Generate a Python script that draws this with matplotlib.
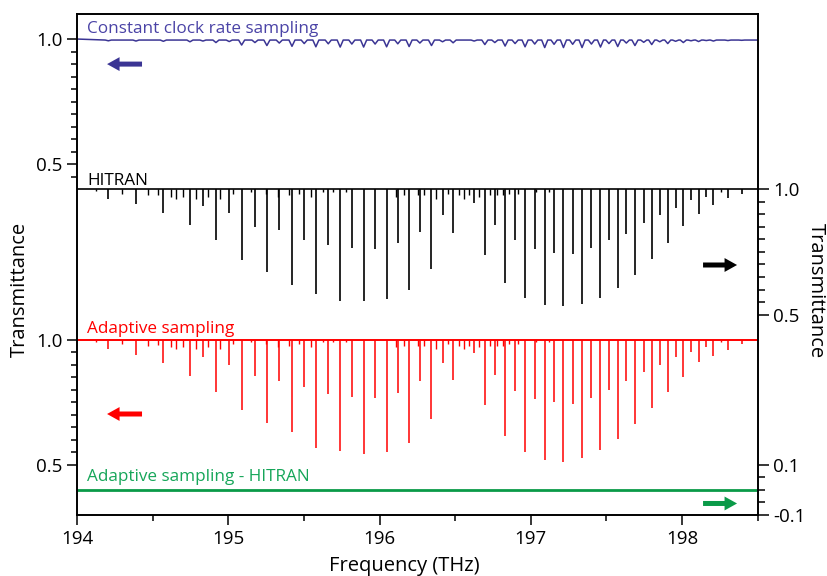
import numpy as np
import matplotlib
matplotlib.use('Agg')
import matplotlib.pyplot as plt

# main absorption lines (THz), with depth below baseline
line_freq = [194.205, 194.388, 194.569, 194.745, 194.831, 194.917, 195.005, 195.087,
             195.175, 195.254, 195.336, 195.420, 195.501, 195.578, 195.660, 195.739,
             195.816, 195.894, 195.970, 196.046, 196.120, 196.195, 196.266, 196.343,
             196.416, 196.486, 196.625, 196.696, 196.762, 196.830, 196.896, 196.962,
             197.026, 197.092, 197.154, 197.216, 197.277, 197.339, 197.401, 197.461,
             197.517, 197.575, 197.632, 197.689, 197.747, 197.800, 197.853, 197.906,
             197.958, 198.009, 198.060, 198.110, 198.161, 198.208, 198.304, 198.395]
hitran_depth = [0.037, 0.057, 0.095, 0.144, 0.067, 0.204, 0.095, 0.281,
                0.151, 0.328, 0.161, 0.381, 0.204, 0.417, 0.224, 0.444,
                0.233, 0.447, 0.240, 0.437, 0.213, 0.400, 0.171, 0.317,
                0.104, 0.175, 0.053, 0.264, 0.144, 0.375, 0.204, 0.435,
                0.237, 0.461, 0.253, 0.467, 0.260, 0.457, 0.233, 0.435,
                0.204, 0.393, 0.180, 0.340, 0.135, 0.277, 0.104, 0.215,
                0.075, 0.148, 0.044, 0.097, 0.031, 0.061, 0.033, 0.017]
adaptive_depth = [0.037, 0.061, 0.095, 0.144, 0.071, 0.208, 0.101, 0.281,
                  0.144, 0.333, 0.167, 0.368, 0.191, 0.433, 0.217, 0.445,
                  0.228, 0.455, 0.231, 0.447, 0.211, 0.413, 0.167, 0.317,
                  0.095, 0.161, 0.053, 0.260, 0.140, 0.384, 0.204, 0.448,
                  0.237, 0.480, 0.247, 0.487, 0.255, 0.471, 0.231, 0.441,
                  0.200, 0.395, 0.167, 0.335, 0.131, 0.273, 0.100, 0.208,
                  0.068, 0.151, 0.051, 0.088, 0.031, 0.064, 0.040, 0.017]
clock_depth = [0.003, 0.004, 0.005, 0.007, 0.004, 0.010, 0.006, 0.020,
               0.010, 0.022, 0.012, 0.025, 0.014, 0.027, 0.015, 0.028,
               0.016, 0.028, 0.016, 0.027, 0.015, 0.026, 0.012, 0.022,
               0.007, 0.011, 0.004, 0.018, 0.010, 0.024, 0.014, 0.027,
               0.016, 0.030, 0.017, 0.030, 0.017, 0.030, 0.016, 0.028,
               0.014, 0.026, 0.012, 0.022, 0.009, 0.018, 0.007, 0.014,
               0.005, 0.010, 0.003, 0.006, 0.002, 0.004, 0.002, 0.001]

# weak (hot band) lines
weak_freq = [194.124, 194.293, 194.465, 194.531, 194.620, 194.653, 194.697, 194.785,
             194.862, 194.944, 195.027, 195.148, 195.248, 195.325, 195.402, 195.468,
             195.545, 195.622, 195.689, 195.777, 196.107, 196.162, 196.251, 196.294,
             196.372, 196.449, 196.526, 196.559, 196.592, 196.658, 196.729, 196.779,
             196.813, 196.856, 196.912, 197.033, 197.121, 198.256]
weak_depth = [0.008, 0.017, 0.024, 0.021, 0.031, 0.037, 0.031, 0.037,
              0.031, 0.037, 0.017, 0.011, 0.017, 0.031, 0.024, 0.017,
              0.031, 0.011, 0.011, 0.011, 0.031, 0.024, 0.024, 0.024,
              0.037, 0.017, 0.024, 0.037, 0.024, 0.031, 0.024, 0.024,
              0.024, 0.017, 0.017, 0.011, 0.011, 0.011]

x_ticks = [194, 195, 196, 197, 198]
left_tick_labels = ['1.0', '0.5', '1.0', '0.5']
right_tick_labels = ['1.0', '0.5', '0.1', '-0.1']

# vertical offsets of the stacked traces
CLOCK_OFF = 1.2
HITRAN_OFF = 0.6
DIFF_OFF = 0.4

C_BLUE = '#3b3594'
C_BLUE_TXT = '#4a43a6'
C_RED = '#ff0000'
C_GREEN = '#0a9a48'
C_GREEN_TXT = '#16a659'

TICK_SIZE = 13.5
LABEL_SIZE = 14.5
TEXT_SIZE = 12.3

plt.rcParams['font.family'] = ['Open Sans', 'DejaVu Sans']

if __name__ == '__main__':
    fig = plt.figure(figsize=(8.28, 5.76), dpi=100)
    ax = fig.add_axes([0.0934, 0.1059, 0.8215, 0.8698])
    ax.set_xlim(194, 198.5)
    ax.set_ylim(0.3, 2.3)

    # constant clock rate trace: shallow broadened dips
    base = 0.996
    w = 0.02
    cx, cy = [194.0], [1.0]
    for f, d in zip(line_freq, clock_depth):
        cx += [f - w, f, f + w]
        cy += [base, base - d, base]
    cx.append(198.5)
    cy.append(base)
    ax.plot(cx, np.array(cy) + CLOCK_OFF, color=C_BLUE, lw=1.1)

    # HITRAN sticks
    ax.hlines(1.0 + HITRAN_OFF, 194, 198.5, color='black', lw=1.2)
    ax.vlines(line_freq, 1.0 + HITRAN_OFF, 1.0 + HITRAN_OFF - np.array(hitran_depth),
              color='black', lw=1.2)
    ax.vlines(weak_freq, 1.0 + HITRAN_OFF, 1.0 + HITRAN_OFF - np.array(weak_depth),
              color='black', lw=1.0)

    # adaptive sampling
    ax.hlines(1.0, 194, 198.5, color=C_RED, lw=1.4)
    ax.vlines(line_freq, 1.0, 1.0 - np.array(adaptive_depth), color=C_RED, lw=1.1)
    ax.vlines(weak_freq, 1.0, 1.0 - np.array(weak_depth), color=C_RED, lw=1.0)

    # residual
    ax.hlines(0.0 + DIFF_OFF, 194, 198.5, color=C_GREEN, lw=2.0)

    # left axis
    ax.set_yticks([1.0 + CLOCK_OFF, 0.5 + CLOCK_OFF, 1.0, 0.5])
    ax.set_yticklabels(left_tick_labels)
    ax.set_yticks(list(np.arange(0.45, 0.99, 0.05) + CLOCK_OFF) + list(np.arange(0.55, 0.99, 0.05)),
                  minor=True)
    ax.set_xticks(x_ticks)
    ax.set_xticklabels([str(t) for t in x_ticks])
    ax.set_xticks(np.arange(194.5, 198.6, 1.0), minor=True)
    ax.tick_params(which='major', direction='out', length=7.5, width=1.1, labelsize=TICK_SIZE, pad=3)
    ax.tick_params(which='minor', direction='out', length=4, width=1.1)

    # right axis
    ax2 = ax.twinx()
    ax2.set_ylim(0.3, 2.3)
    ax2.set_yticks([1.0 + HITRAN_OFF, 0.5 + HITRAN_OFF, 0.1 + DIFF_OFF, -0.1 + DIFF_OFF])
    ax2.set_yticklabels(right_tick_labels)
    ax2.set_yticks(list(np.arange(0.55, 0.99, 0.05) + HITRAN_OFF) +
                   list(np.arange(-0.05, 0.09, 0.05) + DIFF_OFF), minor=True)
    ax2.tick_params(which='major', direction='out', length=8, width=1.1, labelsize=TICK_SIZE, pad=3)
    ax2.tick_params(which='minor', direction='out', length=5, width=1.1)

    for a in (ax, ax2):
        for s in a.spines.values():
            s.set_linewidth(1.2)

    # series labels
    ax.text(0.0143, 0.9615, 'Constant clock rate sampling', transform=ax.transAxes,
            color=C_BLUE_TXT, fontsize=TEXT_SIZE, va='baseline')
    ax.text(0.0143, 0.6587, 'HITRAN', transform=ax.transAxes,
            color='black', fontsize=TEXT_SIZE, va='baseline')
    ax.text(0.0143, 0.3639, 'Adaptive sampling', transform=ax.transAxes,
            color=C_RED, fontsize=TEXT_SIZE, va='baseline')
    ax.text(0.0143, 0.0685, 'Adaptive sampling - HITRAN', transform=ax.transAxes,
            color=C_GREEN_TXT, fontsize=TEXT_SIZE, va='baseline')

    # axis arrows
    arrow_style = 'simple,head_length=0.9,head_width=1.0,tail_width=0.36'
    for (x0, x1, y, c) in [(0.0951, 0.0437, 0.900, C_BLUE), (0.0951, 0.0437, 0.2016, C_RED),
                           (0.9199, 0.9699, 0.499, 'black'), (0.9199, 0.9699, 0.023, C_GREEN)]:
        ax.annotate('', xy=(x1, y), xytext=(x0, y), xycoords='axes fraction',
                    arrowprops=dict(arrowstyle=arrow_style, color=c, mutation_scale=10,
                                    shrinkA=0, shrinkB=0, lw=0))

    fig.text(0.0242, 0.498, 'Transmittance', rotation=90, ha='center', va='center',
             fontsize=LABEL_SIZE)
    fig.text(0.9855, 0.4948, 'Transmittance', rotation=270, ha='center', va='center',
             fontsize=LABEL_SIZE)
    fig.text(404 / 828, 1 - 571 / 576, 'Frequency (THz)', ha='center', va='baseline',
             fontsize=LABEL_SIZE)

    fig.savefig('out.png', dpi=100)
    plt.close(fig)
